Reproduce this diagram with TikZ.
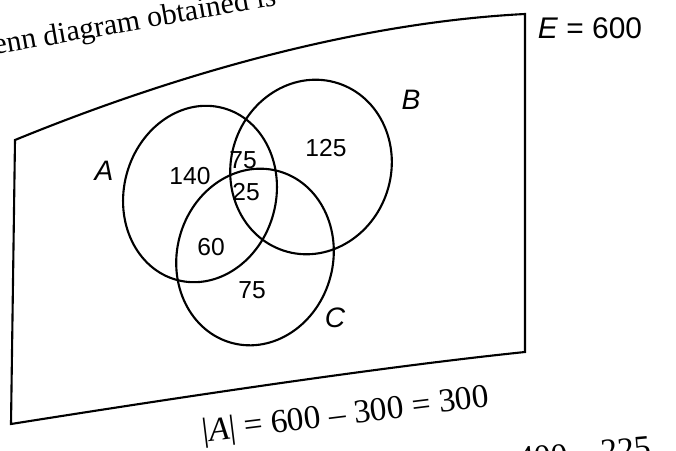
\documentclass[tikz,border=0pt]{standalone}
\usepackage{fontspec}
\setmainfont{Liberation Serif}
\newfontfamily\labelfont{Liberation Sans}
\begin{document}
\begin{tikzpicture}[line width=1.2pt,
    setlabel/.style={font=\labelfont\itshape\fontsize{16}{18}\selectfont},
    count/.style={font=\labelfont\fontsize{14}{16}\selectfont, inner sep=1pt},
    pagetext/.style={font=\fontsize{17}{19}\selectfont, anchor=base west, inner sep=0pt}]
  \useasboundingbox (0,0) rectangle (13.52,9);
  \clip (0,0) rectangle (13.52,9);

  % 1. Corners of the universal set
  \coordinate (TL) at (0.30,6.20);
  \coordinate (TR) at (10.50,8.72);
  \coordinate (BR) at (10.50,1.96);
  \coordinate (BL) at (0.22,0.52);

  % 2. The frame (bent a little, as on the photographed page)
  \draw (TL) .. controls (3.6,7.55) and (7.2,8.55) .. (TR)
        -- (BR) .. controls (8.0,1.70) and (4.5,1.20) .. (BL) -- cycle;

  % 3. Centers of the three sets
  \coordinate (A) at (4.00,5.12);
  \coordinate (B) at (6.22,5.66);
  \coordinate (C) at (5.10,3.86);

  % 4. Draw the sets
  \draw[rotate around={-15:(A)}] (A) ellipse (1.52cm and 1.78cm);
  \draw[rotate around={-18:(B)}] (B) ellipse (1.60cm and 1.76cm);
  \draw[rotate around={-15:(C)}] (C) ellipse (1.56cm and 1.78cm);

  % 5. Set names and the size of E
  \node[setlabel] (labA) at (2.08,5.58) {A};
  \node[setlabel] (labB) at (8.22,7.00) {B};
  \node[setlabel] (labC) at (6.70,2.64) {C};
  \node[font=\labelfont\fontsize{17}{19}\selectfont, anchor=west] (univ) at (10.62,8.44) {\textit{E} = 600};

  % 6. Counts in the regions
  \node[count] (onlyA) at (3.80,5.48) {140};
  \node[count] (AB) at (4.86,5.80) {75};
  \node[count] (onlyB) at (6.52,6.04) {125};
  \node[count] (ABC) at (4.92,5.16) {25};
  \node[count] (AC) at (4.22,4.06) {60};
  \node[count] (onlyC) at (5.04,3.20) {75};

  % 7. Text of the page round the figure
  \node[pagetext, rotate=10] (head) at (-0.12,7.90) {enn diagram obtained is};
  \node[pagetext, font=\fontsize{19}{21}\selectfont, rotate=7] (line1) at (4.05,0.16) {|\textit{A}| = 600 -- 300 = 300};
  \node[pagetext, font=\fontsize{19}{21}\selectfont, rotate=5] (line2) at (10.35,-0.40) {400 -- 225};
\end{tikzpicture}
\end{document}
